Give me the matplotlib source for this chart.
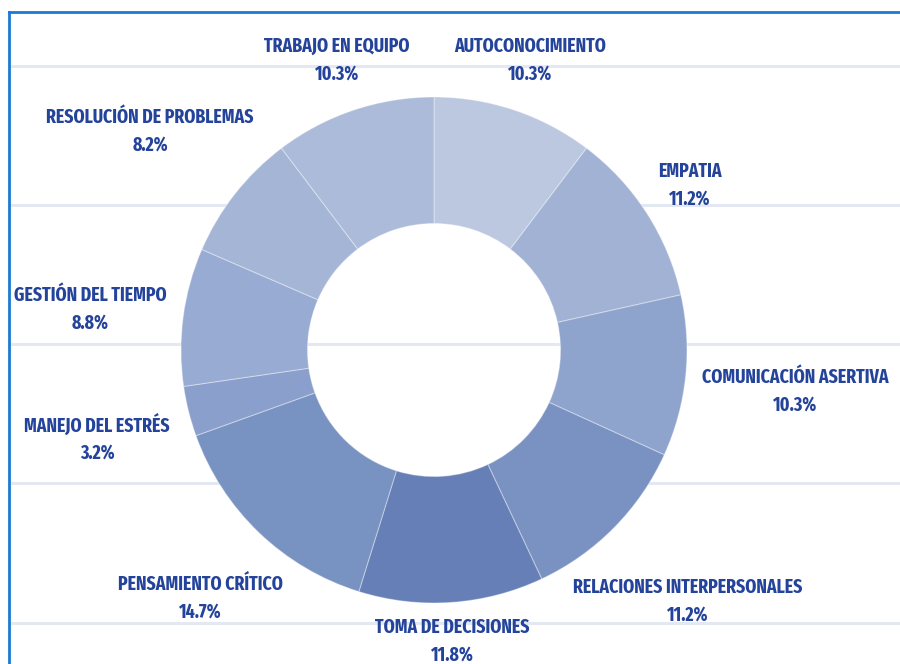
import matplotlib
matplotlib.use("Agg")
import matplotlib.pyplot as plt
from matplotlib.lines import Line2D
from matplotlib import font_manager as fm

categories = ["AUTOCONOCIMIENTO", "EMPATIA", "COMUNICACIÓN ASERTIVA",
              "RELACIONES INTERPERSONALES", "TOMA DE DECISIONES",
              "PENSAMIENTO CRÍTICO", "MANEJO DEL ESTRÉS", "GESTIÓN DEL TIEMPO",
              "RESOLUCIÓN DE PROBLEMAS", "TRABAJO EN EQUIPO"]
values = [10.3, 11.2, 10.3, 11.2, 11.8, 14.7, 3.2, 8.8, 8.2, 10.3]
colors = ["#bcc8e0", "#a1b2d4", "#8fa4cd", "#7992c2", "#6680b7",
          "#7892c1", "#8a9fcb", "#98abd2", "#a4b5d6", "#abbbd9"]
# label anchor positions in pixels (x, y from top)
label_pos = [(530, 60), (690, 185), (795, 391), (688, 601), (452, 641),
             (200, 598), (97, 438), (90, 309), (150, 131), (337, 60)]


def pick_condensed_font():
    cands = []
    for f in fm.fontManager.ttflist:
        key = (f.name + " " + str(f.fname)).lower()
        st = str(f.stretch).lower()
        if "extracondensed" in key or "extra-condensed" in key or st == "extra-condensed":
            rank = 0
        elif "ultracondensed" in key or st == "ultra-condensed":
            continue
        elif "semicondensed" in key or "semi-condensed" in key or st == "semi-condensed":
            rank = 2
        elif "condensed" in key or "narrow" in key or st == "condensed":
            rank = 1
        else:
            continue
        if f.style != "normal" or "italic" in key:
            continue
        w = f.weight if isinstance(f.weight, int) else (700 if "bold" in str(f.weight) else 400)
        cands.append((rank, abs(w - 700), f.fname))
    if cands:
        cands.sort()
        return fm.FontProperties(fname=cands[0][2])
    return fm.FontProperties(family="DejaVu Sans", weight="bold")


fp = pick_condensed_font()

W, H = 900, 664
fig = plt.figure(figsize=(W / 100, H / 100), dpi=100)
fig.patch.set_facecolor("white")
ax = fig.add_axes([0, 0, 1, 1])

# background horizontal guide lines
for yp in [66, 205, 344, 483, 623]:
    ax.plot([10, W], [H - yp, H - yp], color="#e3e8f2", lw=2.2, zorder=0,
            solid_capstyle="butt")

cx, cy, R = 434, H - 350, 253
wedges, _ = ax.pie(values, colors=colors, startangle=90, counterclock=False,
                   center=(cx, cy), radius=R, frame=True,
                   wedgeprops=dict(width=R * 0.5, edgecolor=(1, 1, 1, 0.35),
                                   linewidth=0.8))
ax.set_xlim(0, W)
ax.set_ylim(0, H)
ax.set_aspect("equal")
ax.axis("off")

# size the font so that the widest reference label spans ~208 px
renderer = fig.canvas.get_renderer()
probe = fp.copy()
probe.set_size(20)
t = fig.text(0, 0, "RESOLUCIÓN DE PROBLEMAS", fontproperties=probe)
wpx = t.get_window_extent(renderer).width
t.remove()
size = min(20 * 208.0 / wpx, 15.5)
fp.set_size(size)

txt_color = "#24439a"
for name, v, (x, y) in zip(categories, values, label_pos):
    ax.text(x, H - y, f"{name}\n{v:.1f}%", ha="center", va="center",
            color=txt_color, linespacing=1.5, zorder=5, fontproperties=fp)

# blue frame border (top and left)
fig.add_artist(Line2D([9 / W, 1], [1 - 12 / H, 1 - 12 / H],
                      transform=fig.transFigure, color="#1c7ad4", lw=2))
fig.add_artist(Line2D([9 / W, 9 / W], [0, 1 - 12 / H],
                      transform=fig.transFigure, color="#1c7ad4", lw=2))

fig.savefig("out.png", dpi=100, facecolor="white")
